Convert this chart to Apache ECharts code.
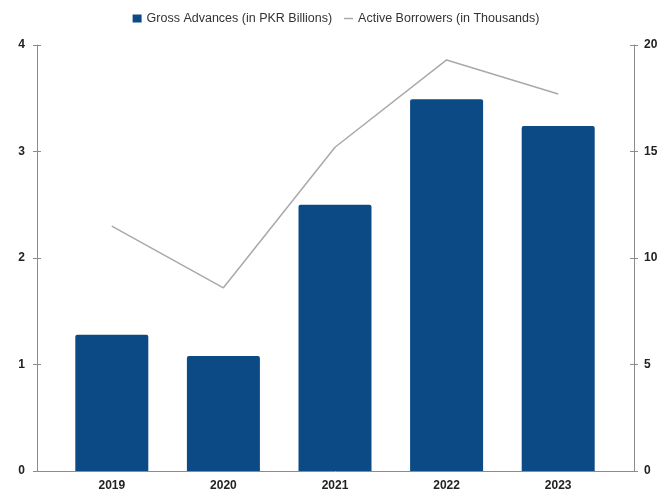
<!DOCTYPE html>
<html>
<head>
<meta charset="utf-8">
<style>
  html, body { margin: 0; padding: 0; background: #fff; }
  #chart { width: 672px; height: 491px; }
</style>
<script src="https://cdn.jsdelivr.net/npm/echarts@6/dist/echarts.min.js"></script>
</head>
<body>
<div id="chart"></div>
<script>
// Yearly figures
const years = ['2019', '2020', '2021', '2022', '2023'];
const grossAdvances = [1.28, 1.08, 2.50, 3.49, 3.24];     // PKR billions
const activeBorrowers = [11.5, 8.6, 15.2, 19.3, 17.7];    // thousands
const leftTicks = [0, 1, 2, 3, 4];
const rightTicks = [0, 5, 10, 15, 20];

const seriesNames = ['Gross Advances (in PKR Billions)', 'Active Borrowers (in Thousands)'];

const axisGray = '#8c8c8c';
const labelStyle = { color: '#222', fontWeight: 'bold', fontSize: 12, fontFamily: 'Liberation Sans, Arial, sans-serif' };

const chart = echarts.init(document.getElementById('chart'), null, { renderer: 'canvas' });

// Helper for a value axis; two stacked copies give crossing tick marks
function valueAxis(opts) {
  return Object.assign({
    type: 'value',
    gridIndex: 0,
    splitLine: { show: false },
    axisLine: { show: true, lineStyle: { color: axisGray, width: 1 } },
    axisTick: { show: true, length: 4, lineStyle: { color: axisGray, width: 1 } }
  }, opts);
}

chart.setOption({
  animation: false,
  backgroundColor: '#fff',
  textStyle: { fontFamily: 'Liberation Sans, Arial, sans-serif' },
  legend: {
    top: 7,
    left: 'center',
    itemWidth: 9,
    itemHeight: 8,
    itemGap: 12,
    symbolKeepAspect: true,
    textStyle: { color: '#333', fontSize: 12.5, fontFamily: 'Liberation Sans, Arial, sans-serif' },
    data: [
      { name: seriesNames[0], icon: 'rect' },
      { name: seriesNames[1], icon: 'path://M0,0H9V1.5H0Z' }
    ]
  },
  grid: [
    { left: 56, right: 58, top: 45, bottom: 20, containLabel: false, outerBoundsMode: 'none' },
    { left: 37, right: 38, top: 45, bottom: 20, containLabel: false, outerBoundsMode: 'none' }
  ],
  xAxis: [
    {
      type: 'category',
      gridIndex: 0,
      data: years,
      axisLine: { show: false },
      axisTick: { show: false },
      axisLabel: Object.assign({ margin: 9 }, labelStyle)
    },
    {
      // full-width baseline running between the two value axes
      type: 'value',
      gridIndex: 1,
      min: 0, max: 1,
      axisLine: { show: true, lineStyle: { color: axisGray, width: 1 } },
      axisTick: { show: false },
      axisLabel: { show: false },
      splitLine: { show: false }
    }
  ],
  yAxis: [
    valueAxis({
      position: 'left', offset: 19, min: 0, max: 4, interval: 1,
      axisLabel: Object.assign({ margin: 12, formatter: v => leftTicks.includes(v) ? String(v) : '' }, labelStyle)
    }),
    valueAxis({
      position: 'right', offset: 20, min: 0, max: 20, interval: 5,
      axisLabel: Object.assign({ margin: 10, formatter: v => rightTicks.includes(v) ? String(v) : '' }, labelStyle)
    }),
    valueAxis({
      position: 'left', offset: 19, min: 0, max: 4, interval: 1,
      axisLine: { show: false },
      axisTick: { show: true, inside: true, length: 4, lineStyle: { color: axisGray, width: 1 } },
      axisLabel: { show: false }
    }),
    valueAxis({
      position: 'right', offset: 20, min: 0, max: 20, interval: 5,
      axisLine: { show: false },
      axisTick: { show: true, inside: true, length: 4, lineStyle: { color: axisGray, width: 1 } },
      axisLabel: { show: false }
    }),
    {
      type: 'value', gridIndex: 1, show: false, min: 0, max: 1
    }
  ],
  series: [
    {
      name: seriesNames[0],
      type: 'bar',
      xAxisIndex: 0,
      yAxisIndex: 0,
      data: grossAdvances,
      barWidth: 73,
      itemStyle: { color: '#0b4a85', borderRadius: [2, 2, 0, 0] }
    },
    {
      name: seriesNames[1],
      type: 'line',
      xAxisIndex: 0,
      yAxisIndex: 1,
      data: activeBorrowers,
      symbol: 'none',
      lineStyle: { color: '#a9a9a9', width: 1.5 },
      itemStyle: { color: '#a9a9a9' },
      z: 3
    }
  ]
});
</script>
</body>
</html>
